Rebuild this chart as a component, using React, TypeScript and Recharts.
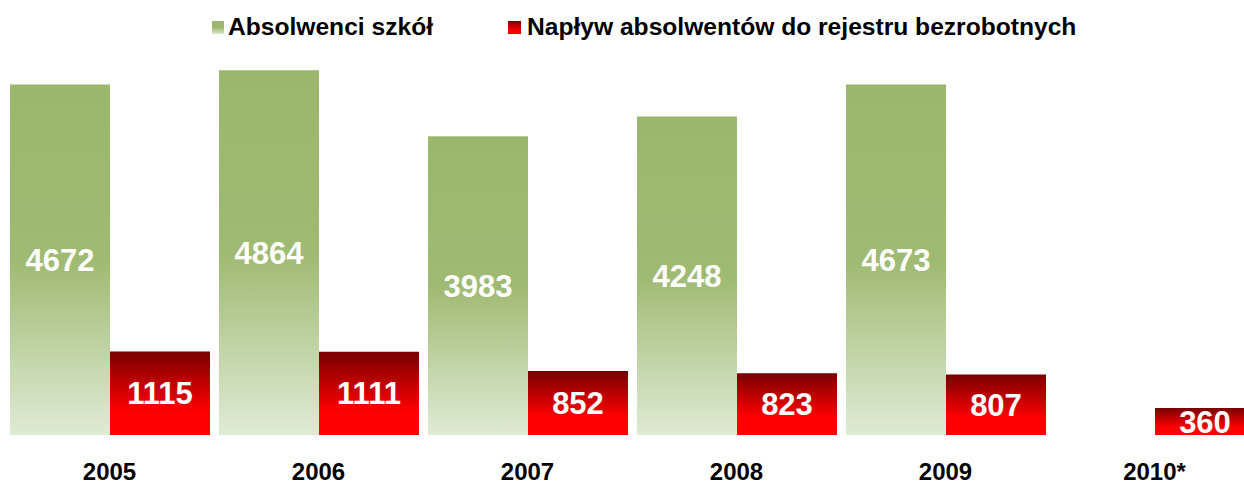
import React from 'react';
import { BarChart, Bar, XAxis, YAxis, LabelList, Legend } from 'recharts';

const categories = ['2005', '2006', '2007', '2008', '2009', '2010*'];
const graduates = [4672, 4864, 3983, 4248, 4673, null];
const inflow = [1115, 1111, 852, 823, 807, 360];
const seriesNames = ['Absolwenci szkół', 'Napływ absolwentów do rejestru bezrobotnych'];

const data = categories.map((c, i) => ({ year: c, grad: graduates[i], inflow: inflow[i] }));

const FONT = '"Liberation Sans", Arial, sans-serif';

const Tick = (props: any) => {
  const { x, y, payload } = props;
  return (
    <text x={x} y={y + 28} textAnchor="middle" dominantBaseline="central" fontFamily={FONT} fontWeight="bold" fontSize={24} fill="#000">
      {payload.value}
    </text>
  );
};

const LegendContent = () => (
  <div style={{ position: 'relative', height: 0, width: 1262, fontFamily: FONT, fontWeight: 'bold', fontSize: 24.6, color: '#000' }}>
    <div style={{ position: 'absolute', left: 212, top: 21, width: 12, height: 13, background: 'linear-gradient(#9bb76d, #9bb76d 50%, #dde9d0)' }} />
    <div style={{ position: 'absolute', left: 228, top: 13, lineHeight: '28px', whiteSpace: 'nowrap' }}>{seriesNames[0]}</div>
    <div style={{ position: 'absolute', left: 508, top: 21, width: 13, height: 13, background: 'linear-gradient(#7a0000, #ff0000 75%, #ff0000)' }} />
    <div style={{ position: 'absolute', left: 527, top: 13, lineHeight: '28px', whiteSpace: 'nowrap' }}>{seriesNames[1]}</div>
  </div>
);

export default function App() {
  return (
    <div style={{ position: 'absolute', left: 0, top: 0, width: 1244, height: 485, overflow: 'hidden', background: '#fff' }}>
      <BarChart width={1262} height={485} data={data} margin={{ top: 60, right: 3, bottom: 0, left: 5 }} barGap={0} barSize={100}>
        <defs>
          <linearGradient id="gGreen" x1="0" y1="0" x2="0" y2="1">
            <stop offset="0" stopColor="#9bb76d" />
            <stop offset="0.5" stopColor="#9fba72" />
            <stop offset="1" stopColor="#dfebd5" />
          </linearGradient>
          <linearGradient id="gRed" x1="0" y1="0" x2="0" y2="1">
            <stop offset="0" stopColor="#780000" />
            <stop offset="0.72" stopColor="#ff0000" />
            <stop offset="1" stopColor="#ff0000" />
          </linearGradient>
        </defs>
        <Legend verticalAlign="top" align="left" content={<LegendContent />} wrapperStyle={{ top: 0, left: 0, width: 1262, height: 0 }} />
        <XAxis dataKey="year" axisLine={false} tickLine={false} height={50} tick={<Tick />} interval={0} />
        <YAxis hide domain={[0, 5000]} />
        <Bar dataKey="grad" name={seriesNames[0]} fill="url(#gGreen)" isAnimationActive={false}>
          <LabelList dataKey="grad" position="center" fill="#fff" fontFamily={FONT} fontWeight="bold" fontSize={31} />
        </Bar>
        <Bar dataKey="inflow" name={seriesNames[1]} fill="url(#gRed)" isAnimationActive={false}>
          <LabelList dataKey="inflow" position="center" fill="#fff" fontFamily={FONT} fontWeight="bold" fontSize={31} />
        </Bar>
      </BarChart>
    </div>
  );
}
